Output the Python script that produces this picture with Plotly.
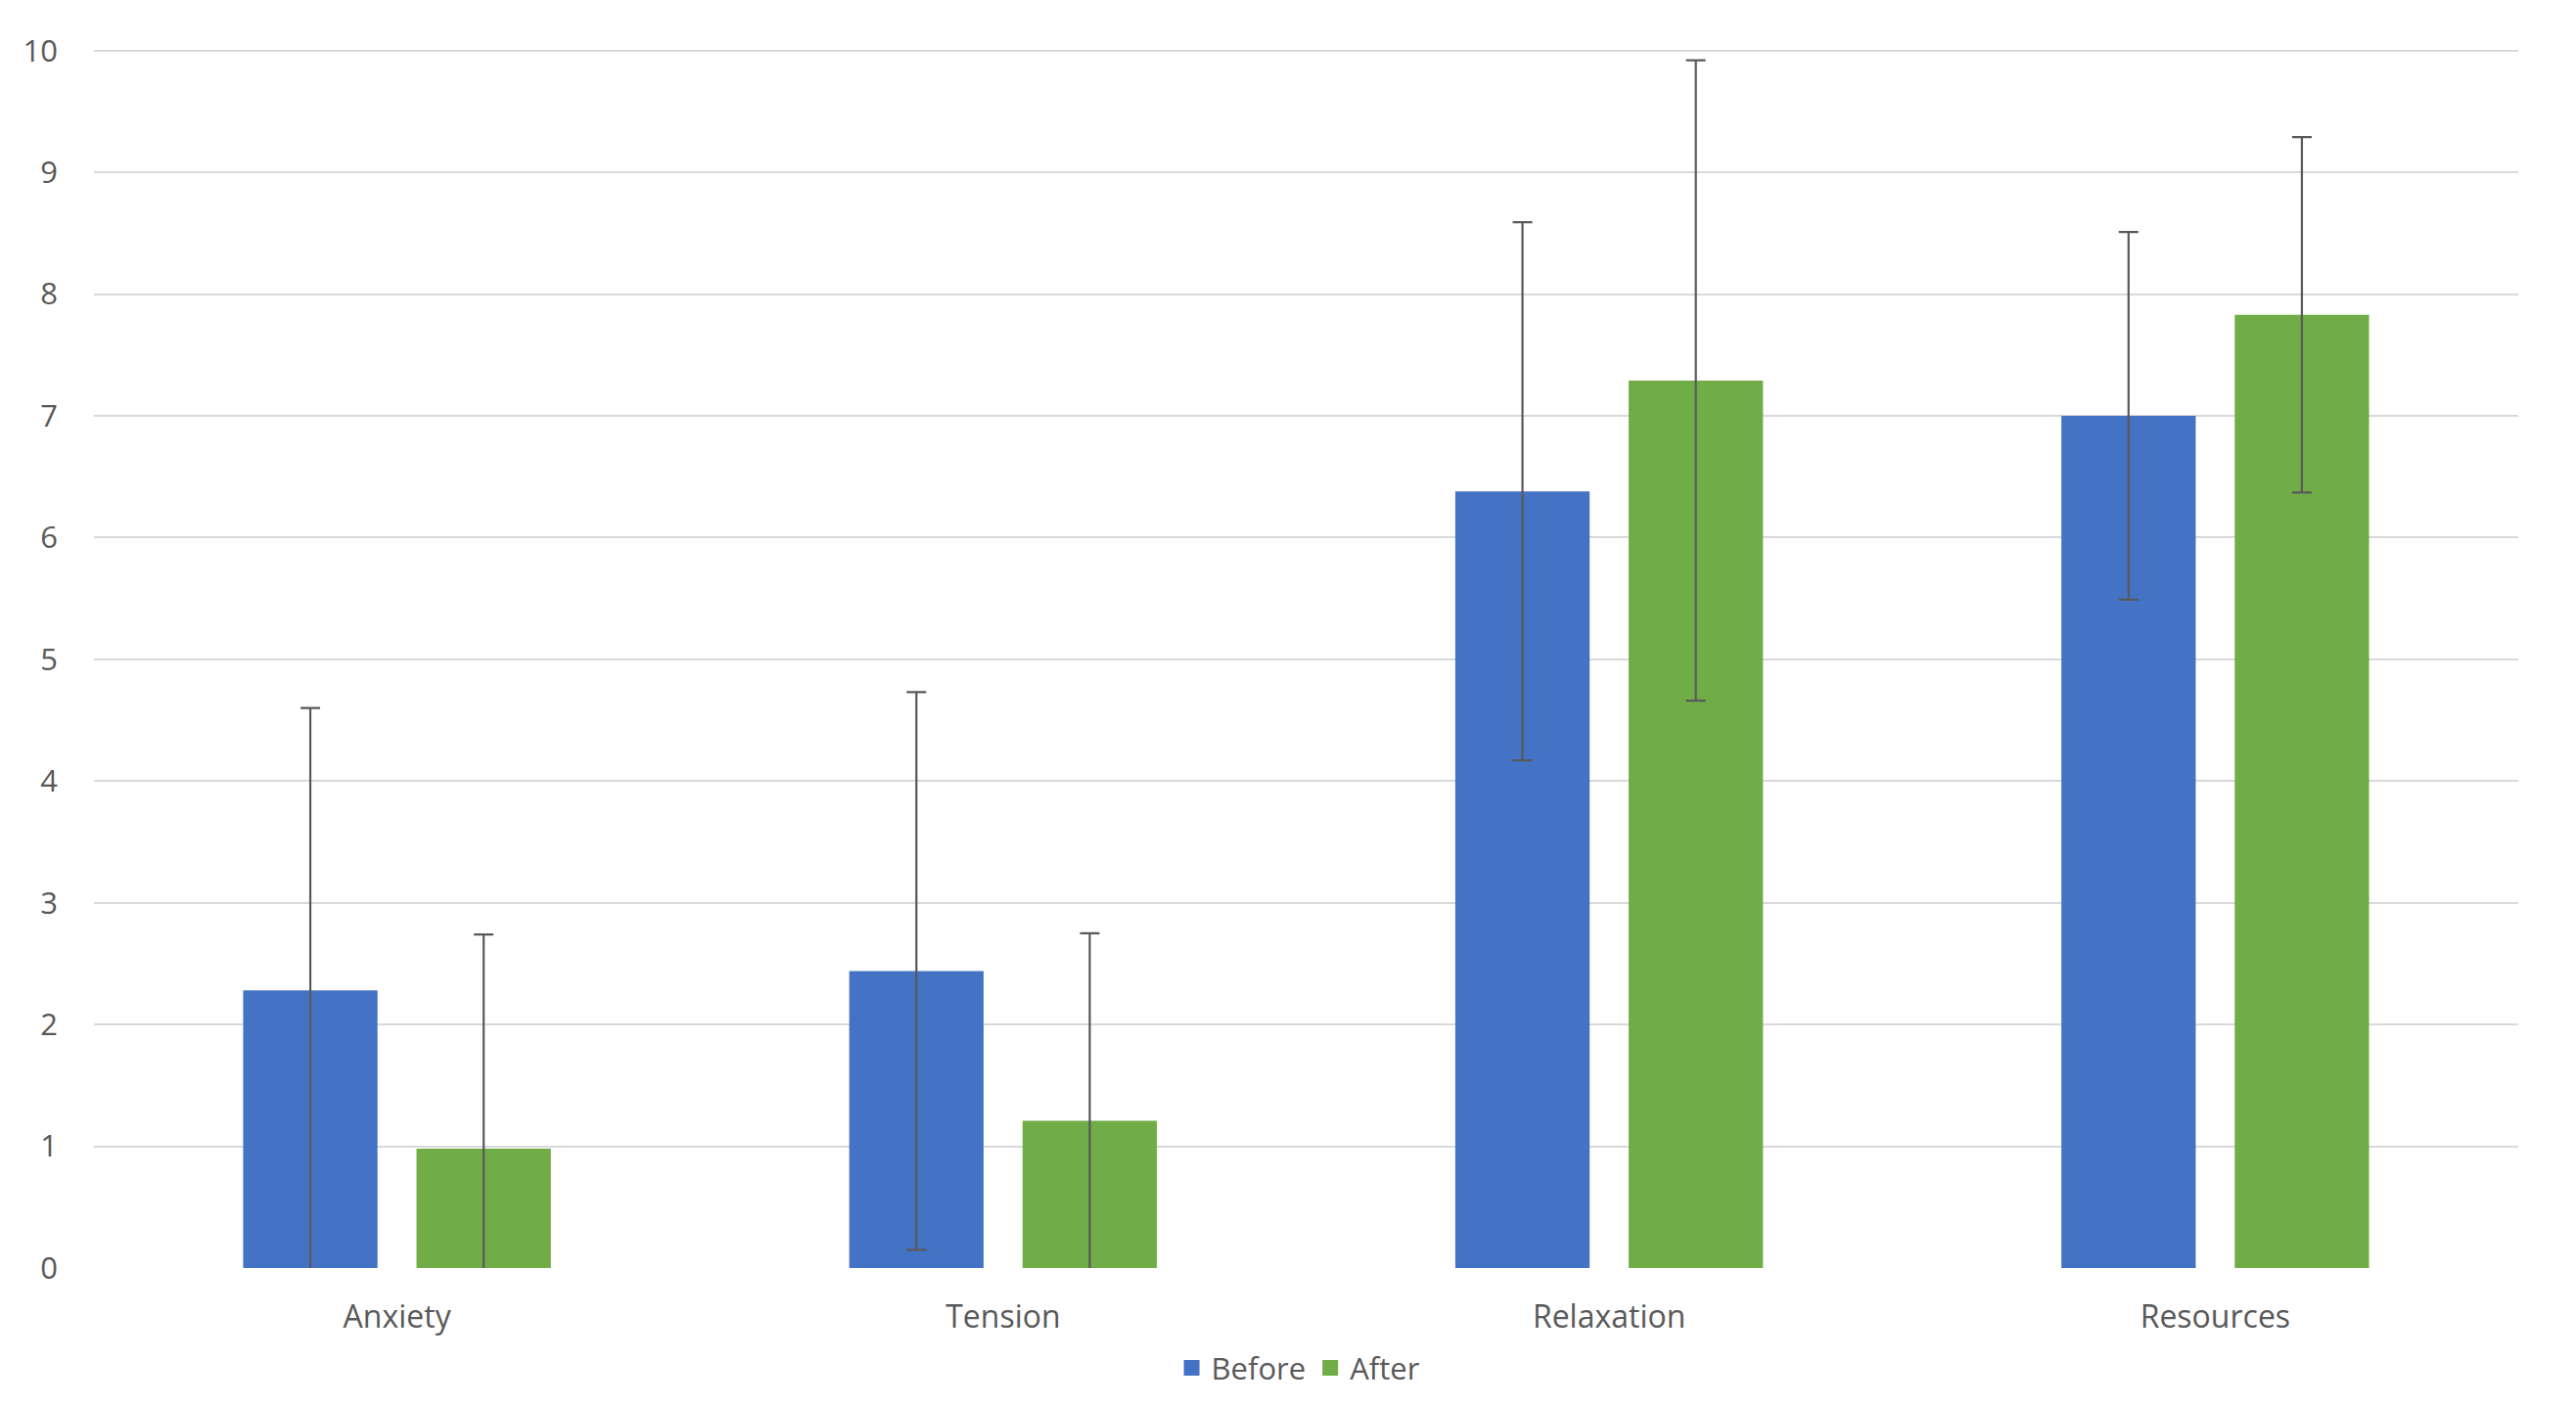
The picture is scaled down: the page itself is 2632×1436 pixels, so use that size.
import plotly.graph_objects as go

categories = ["Anxiety", "Tension", "Relaxation", "Resources"]
before = [2.28, 2.44, 6.38, 7.00]
before_err = [2.32, 2.29, 2.21, 1.51]
after = [0.98, 1.21, 7.29, 7.83]
after_err = [1.76, 1.54, 2.63, 1.46]
y_ticks = list(range(0, 11))

BLUE = "#4472C4"
GREEN = "#70AD47"
ERR = "#595959"
FONT = "Open Sans"

fig = go.Figure()
for name, vals, errs, col in [("Before", before, before_err, BLUE),
                              ("After", after, after_err, GREEN)]:
    fig.add_trace(go.Bar(
        x=categories, y=vals, name=name, marker=dict(color=col, line=dict(width=0)),
        error_y=dict(type="data", array=errs, visible=True, color=ERR,
                     thickness=2.2, width=10),
        showlegend=False,
    ))
    fig.add_trace(go.Scatter(
        x=[None], y=[None], mode="markers", name=name,
        marker=dict(symbol="square", size=22, color=col),
        showlegend=True,
    ))

fig.update_layout(
    width=2632, height=1436,
    margin=dict(l=88, r=67, t=40, b=148),
    paper_bgcolor="white", plot_bgcolor="white",
    barmode="group", bargap=0.428, bargroupgap=0.225,
    font=dict(family=FONT, size=30, color="#595959"),
    legend=dict(orientation="h", x=0.497, xanchor="center", y=-0.082, yanchor="middle",
                font=dict(size=31, color="#595959"), itemwidth=30,
                traceorder="normal"),
    xaxis=dict(showgrid=False, showline=False, zeroline=False, ticks="",
               ticklabelstandoff=28, tickfont=dict(size=32)),
    yaxis=dict(range=[0, 10.03], tickvals=y_ticks, showgrid=True, gridcolor="#D9D9D9",
               gridwidth=2, zeroline=False, showline=False, ticks="",
               ticklabelstandoff=36, tickfont=dict(size=31)),
)

fig.write_html("out.html")
